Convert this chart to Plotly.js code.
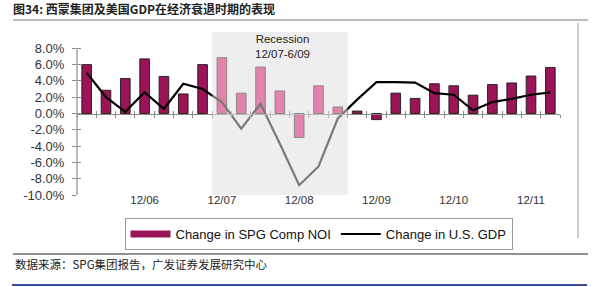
<!DOCTYPE html>
<html><head><meta charset="utf-8">
<script src="https://cdn.plot.ly/plotly-3.0.1.min.js"></script>
<style>html,body{margin:0;padding:0;background:#fff;}#chart{width:595px;height:287px;}</style>
</head><body><div id="chart"></div>
<script>
// ---- data ----
const quarters = ['2006Q1','2006Q2','2006Q3','2006Q4','2007Q1','2007Q2','2007Q3','2007Q4',
  '2008Q1','2008Q2','2008Q3','2008Q4','2009Q1','2009Q2','2009Q3','2009Q4',
  '2010Q1','2010Q2','2010Q3','2010Q4','2011Q1','2011Q2','2011Q3','2011Q4','2012Q1'];
const noiChange = [6.0, 2.85, 4.3, 6.7, 4.55, 2.4, 6.0, 6.85, 2.5, 5.7, 2.77, -2.95, 3.4, 0.8,
  0.3, -0.75, 2.5, 1.85, 3.65, 3.4, 2.25, 3.55, 3.75, 4.6, 5.65];
const gdpChange = [5.0, 2.0, 0.2, 2.6, 0.55, 3.65, 3.0, 1.4, -1.85, 1.2, -3.7, -8.8, -6.5, -0.6,
  1.7, 3.85, 3.85, 3.8, 2.5, 2.3, 0.4, 1.4, 1.8, 2.3, 2.6];
const tickQuarters = ['2006Q4','2007Q4','2008Q4','2009Q4','2010Q4','2011Q4'];
const tickLabels = ['12/06','12/07','12/08','12/09','12/10','12/11'];
const yTicks = [-10,-8,-6,-4,-2,0,2,4,6,8];
const yTickLabels = yTicks.map(v => v.toFixed(1) + '%');
const recessionStart = '2007Q4', recessionEnd = '2009Q2';
const recessionText = ['Recession', '12/07-6/09'];
const seriesNames = ['Change in SPG Comp NOI', 'Change in U.S. GDP'];
const titleText = '图34: 西蒙集团及美国GDP在经济衰退时期的表现';
const sourceText = '数据来源：SPG集团报告，广发证券发展研究中心';

// ---- layout helpers ----
const W = 595, H = 287, M = {l:77, r:35, t:32, b:92};
const PW = W - M.l - M.r, PH = H - M.t - M.b;
const px = v => (v - M.l) / PW;              // pixel -> paper x
const py = v => (H - M.b - v) / PH;          // pixel -> paper y
const yMin = -10, yMax = 10;
const zeroPos = (0 - yMin) / (yMax - yMin);

const r0 = quarters.indexOf(recessionStart), r1 = quarters.indexOf(recessionEnd);
const inRec = i => i >= r0 && i <= r1;
const barColor = '#9b1457', recColor = 'rgb(227,22,108)';
const nulls = quarters.map(() => null);
const font = 'Liberation Sans, Arial, sans-serif';
const cjk = 'Noto Sans CJK SC, sans-serif';
const axisGray = '#8a8a8a';

const traces = [
  {type:'bar', x:quarters, y:noiChange, name:seriesNames[0], showlegend:false,
   marker:{color:quarters.map((q,i)=>inRec(i)?recColor:barColor),
           line:{color:'#1a1a1a', width:0.9}},
   hoverinfo:'skip'},
  {type:'scatter', mode:'lines', x:quarters, y:gdpChange, name:seriesNames[1], showlegend:false,
   line:{color:'#000', width:2.2}, hoverinfo:'skip'},
  // legend entries
  {type:'scatter', mode:'lines', x:[null], y:[null], name:seriesNames[0],
   line:{color:barColor, width:7}},
  {type:'scatter', mode:'lines', x:[null], y:[null], name:seriesNames[1],
   line:{color:'#000', width:2}},
  // helper traces for overlay axes
  {type:'scatter', mode:'none', x:quarters, y:nulls, xaxis:'x2', yaxis:'y2', showlegend:false, hoverinfo:'skip'},
  {type:'scatter', mode:'none', x:quarters, y:nulls, xaxis:'x3', yaxis:'y', showlegend:false, hoverinfo:'skip'}
];

const xCommon = {type:'category', range:[-0.5, quarters.length-0.5], showgrid:false, zeroline:false, fixedrange:true};
const layout = {
  width:W, height:H, margin:M, paper_bgcolor:'#fff', plot_bgcolor:'rgba(0,0,0,0)',
  bargap:0.5,
  font:{family:font, size:13, color:'#222'},
  title:{text:titleText, x:13/W, xref:'container', xanchor:'left', y:1-10/H, yref:'container', yanchor:'middle',
         font:{family:cjk, size:12, color:'#222', weight:'bold'}},
  xaxis:Object.assign({}, xCommon, {anchor:'free', position:zeroPos, showline:true, linecolor:axisGray, linewidth:1.2,
         ticks:'outside', tickson:'boundaries', tickmode:'linear', tick0:0, dtick:1, ticklen:3, tickcolor:axisGray, tickwidth:1,
         showticklabels:false}),
  xaxis3:Object.assign({}, xCommon, {overlaying:'x', anchor:'free', position:zeroPos, showline:false,
         ticks:'inside', tickson:'boundaries', tickmode:'linear', tick0:0, dtick:1, ticklen:3, tickcolor:axisGray, tickwidth:1,
         showticklabels:false}),
  xaxis2:Object.assign({}, xCommon, {overlaying:'x', anchor:'y', showline:false, ticks:'',
         tickmode:'array', tickvals:tickQuarters, ticktext:tickLabels, ticklabelstandoff:-4,
         tickfont:{size:11.5, color:'#333'}}),
  yaxis:{range:[yMin,yMax], showgrid:false, zeroline:false, showline:false, fixedrange:true,
         tickmode:'array', tickvals:yTicks, ticktext:yTickLabels, ticks:'outside', ticklen:4, tickcolor:axisGray,
         ticklabelstandoff:5, tickfont:{size:13, color:'#333'}},
  yaxis2:{overlaying:'y', anchor:'x', range:[yMin,yMax], showgrid:false, zeroline:false, showline:false,
         tickmode:'array', tickvals:yTicks, ticks:'inside', ticklen:4, tickcolor:axisGray, showticklabels:false},
  legend:{orientation:'h', x:0.5, xanchor:'center', y:py(218), yanchor:'top',
          bordercolor:'#999', borderwidth:1, bgcolor:'#fff', font:{size:13, color:'#111'},
          itemwidth:40, traceorder:'normal'},
  shapes:[
    {type:'line', xref:'paper', yref:'y', x0:0, x1:0, y0:yTicks[0], y1:yTicks[yTicks.length-1],
     line:{color:axisGray, width:1.2}},
    {type:'rect', xref:'x', yref:'y', x0:r0-0.5, x1:r1+0.5, y0:yMin, y1:yMax,
     fillcolor:'rgba(223,223,223,0.54)', line:{width:0}, layer:'above'},
    {type:'line', xref:'paper', yref:'paper', x0:px(13), x1:px(588), y0:py(20), y1:py(20), line:{color:'#777', width:1}},
    {type:'line', xref:'paper', yref:'paper', x0:px(578), x1:px(578), y0:py(23), y1:py(238), line:{color:'#bbb', width:1.5}},
    {type:'line', xref:'paper', yref:'paper', x0:px(13), x1:px(588), y0:py(254), y1:py(254), line:{color:'#222', width:1}},
    {type:'line', xref:'paper', yref:'paper', x0:px(12), x1:px(587), y0:py(285), y1:py(285), line:{color:'#3a4a9c', width:2}}
  ],
  annotations:[
    {text:recessionText.join('<br>'), xref:'x', yref:'paper', x:(r0+r1)/2, xshift:3, y:py(46.5), yanchor:'middle',
     showarrow:false, font:{size:11.5, color:'#222'}},
    {text:sourceText, xref:'paper', yref:'paper', x:px(13), y:py(264), xanchor:'left', yanchor:'middle', showarrow:false,
     font:{family:cjk, size:11.5, color:'#222'}}
  ]
};
Plotly.newPlot('chart', traces, layout, {staticPlot:true, displayModeBar:false});
</script></body></html>
